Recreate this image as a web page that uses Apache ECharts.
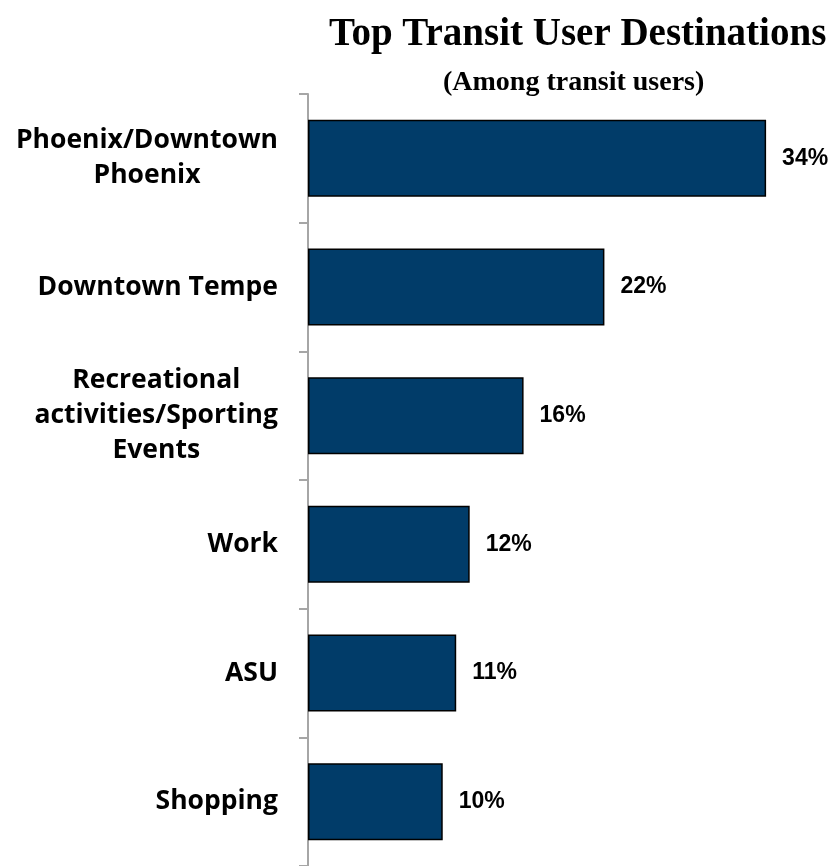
<!DOCTYPE html>
<html>
<head>
<meta charset="utf-8">
<script src="https://cdn.jsdelivr.net/npm/echarts@6/dist/echarts.min.js"></script>
<style>
  html, body { margin: 0; padding: 0; background: #fff; }
  #chart { width: 832px; height: 866px; }
</style>
</head>
<body>
<div id="chart"></div>
<script>
// 数据
var categories = [
  "Phoenix/Downtown\nPhoenix",
  "Downtown Tempe",
  "Recreational\nactivities/Sporting\nEvents",
  "Work",
  "ASU",
  "Shopping"
];
var values = [34, 22, 16, 12, 11, 10];

var chart = echarts.init(document.getElementById("chart"));

var option = {
  backgroundColor: "#fff",
  title: [
    {
      text: "Top Transit User Destinations",
      left: 324,
      top: 10,
      textStyle: { fontFamily: "Liberation Serif", fontWeight: "bold", fontSize: 39, color: "#000" }
    },
    {
      text: "(Among transit users)",
      left: 438,
      top: 64,
      textStyle: { fontFamily: "Liberation Serif", fontWeight: "bold", fontSize: 28, color: "#000" }
    }
  ],
  grid: { left: 308, top: 94, width: 512, height: 779 },
  xAxis: { type: "value", min: 0, max: 38, show: false },
  yAxis: {
    type: "category",
    inverse: true,
    data: categories,
    axisLine: { show: true, lineStyle: { color: "#a6a6a6", width: 2 } },
    axisTick: { show: true, length: 9, lineStyle: { color: "#a6a6a6", width: 2 } },
    axisLabel: {
      margin: 30,
      interval: 0,
      // 多行标签居中对齐
      formatter: function (v) {
        return v.split("\n").map(function (s) { return "{c|" + s + "}"; }).join("\n");
      },
      rich: {
        c: { align: "center", fontFamily: "Open Sans", fontWeight: "bold", fontSize: 26.5, lineHeight: 35, color: "#000" }
      }
    }
  },
  series: [
    {
      type: "bar",
      data: values,
      barWidth: 77,
      itemStyle: { color: "#013c69", borderColor: "#000", borderWidth: 1.5 },
      label: {
        show: true,
        position: "right",
        distance: 16,
        formatter: "{c}%",
        fontFamily: "Liberation Sans",
        fontWeight: "bold",
        fontSize: 23,
        color: "#000"
      }
    }
  ]
};
chart.setOption(option);
</script>
</body>
</html>
